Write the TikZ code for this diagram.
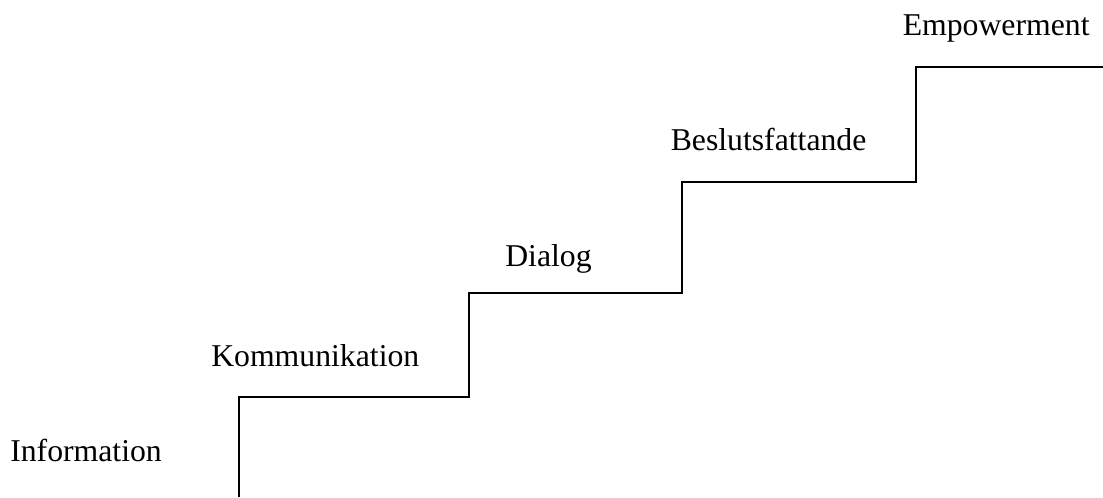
\documentclass[tikz,border=0pt]{standalone}
\usepackage{fontspec}
\setmainfont{Liberation Serif}
\begin{document}
\begin{tikzpicture}[x=0.75pt,y=-0.75pt,
  stair/.style={line width=1.5pt,line join=miter},
  steplabel/.style={anchor=base west,inner sep=0pt,font=\fontsize{23.8}{28}\selectfont}]
\useasboundingbox (0,0) rectangle (1103,497);
\coordinate (s0) at (239,497);
\coordinate (s1) at (239,397);
\coordinate (s2) at (469,397);
\coordinate (s3) at (469,293);
\coordinate (s4) at (682,293);
\coordinate (s5) at (682,182);
\coordinate (s6) at (916,182);
\coordinate (s7) at (916,67);
\coordinate (s8) at (1103,67);
\draw[stair] (s0) -- (s1) -- (s2) -- (s3) -- (s4) -- (s5) -- (s6) -- (s7) -- (s8);
\node[steplabel] (info) at (10,461) {Information};
\node[steplabel] (komm) at (211,366.7) {Kommunikation};
\node[steplabel] (dial) at (505,266) {Dialog};
\node[steplabel] (besl) at (670.5,150) {Beslutsfattande};
\node[steplabel] (empo) at (902.5,35) {Empowerment};
\end{tikzpicture}
\end{document}
